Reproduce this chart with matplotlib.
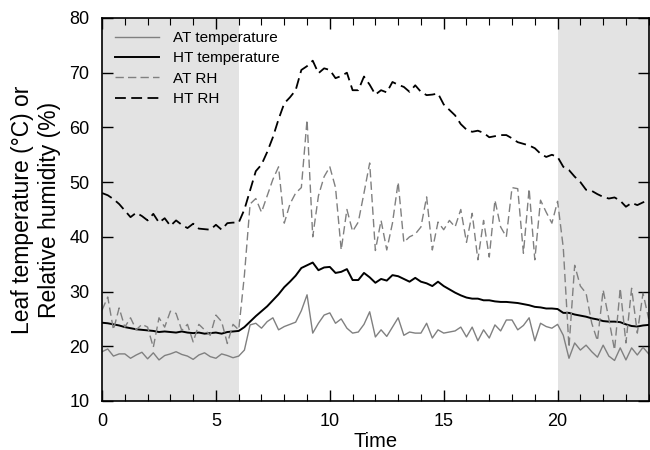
import numpy as np
import matplotlib
matplotlib.use("Agg")
import matplotlib.pyplot as plt
from matplotlib.ticker import MultipleLocator

plt.rcParams['font.family'] = ['Liberation Sans', 'DejaVu Sans']

# time in hours, 15-min readings
hours = np.arange(0, 24.01, 0.25)

at_temp = [19.0, 19.5, 18.2, 18.6, 18.6, 17.8, 18.4, 18.9, 17.7, 18.8,
           17.5, 18.3, 18.6, 19.0, 18.5, 18.2, 17.6, 18.4, 18.8, 18.1,
           17.8, 18.6, 18.3, 17.9, 18.2, 19.3, 23.9, 24.2, 23.3, 24.5,
           25.2, 23.0, 23.6, 24.0, 24.4, 26.5, 29.4, 22.4, 24.2, 25.7,
           26.1, 24.2, 25.0, 23.3, 22.4, 22.6, 24.0, 26.3, 21.7, 23.0,
           21.8, 23.5, 25.2, 22.0, 22.6, 22.4, 22.4, 24.2, 21.5, 23.0,
           22.4, 22.6, 22.8, 23.5, 21.7, 23.5, 21.0, 23.0, 21.5, 23.9,
           22.8, 24.8, 24.8, 23.0, 23.8, 25.2, 21.0, 24.2, 23.6, 23.3,
           24.0, 22.0, 17.8, 20.6, 19.3, 20.2, 19.0, 18.0, 20.2, 18.2,
           17.4, 19.7, 17.5, 19.7, 18.4, 19.8, 18.6]

ht_temp = [24.3, 24.2, 24.0, 23.8, 23.5, 23.3, 23.1, 23.0, 22.9, 22.8,
           22.6, 22.7, 22.6, 22.5, 22.7, 22.5, 22.4, 22.5, 22.3, 22.4,
           22.5, 22.3, 22.6, 22.7, 22.8, 23.5, 24.5, 25.5, 26.4, 27.3,
           28.4, 29.5, 30.8, 31.8, 32.9, 34.3, 34.8, 35.3, 33.9, 34.4,
           34.5, 33.4, 33.6, 34.1, 32.1, 32.1, 33.4, 32.6, 31.6, 32.3,
           32.0, 33.0, 32.8, 32.3, 31.8, 32.5, 31.8, 31.5, 31.0, 31.8,
           31.0, 30.4, 29.8, 29.3, 28.9, 28.7, 28.7, 28.4, 28.4, 28.2,
           28.1, 28.1, 28.0, 27.9, 27.7, 27.5, 27.2, 27.1, 26.9, 26.9,
           26.8, 26.1, 26.1, 25.8, 25.6, 25.4, 25.1, 24.9, 24.6, 24.5,
           24.5, 24.4, 24.0, 23.7, 23.6, 23.8, 23.9]

at_rh = [26.6, 29.0, 23.0, 27.0, 23.5, 25.2, 23.0, 24.0, 23.5, 19.8,
         25.2, 23.5, 26.4, 26.0, 22.9, 24.0, 20.8, 24.0, 23.0, 22.0,
         25.7, 24.5, 20.5, 24.0, 23.0, 33.0, 46.0, 47.0, 44.5, 47.5,
         50.5, 52.8, 42.5, 46.0, 48.0, 49.0, 61.4, 40.0, 47.5, 51.0,
         52.8, 49.0, 37.6, 45.0, 41.0, 42.7, 48.0, 53.5, 37.5, 43.0,
         37.6, 42.5, 50.0, 39.0, 40.0, 40.5, 41.8, 47.3, 37.6, 42.7,
         41.3, 43.0, 41.8, 45.0, 39.0, 44.3, 35.8, 43.0, 36.3, 46.7,
         41.8, 40.0, 49.0, 48.8, 37.0, 48.8, 35.8, 46.7, 44.5, 42.5,
         46.5, 38.0, 19.8, 34.8, 31.0, 29.7, 24.2, 21.0, 30.3, 25.0,
         19.3, 30.6, 20.6, 30.6, 22.4, 29.7, 25.0]

ht_rh = [48.0, 47.6, 46.9, 46.0, 44.8, 43.6, 44.4, 43.8, 43.0, 44.2,
         42.6, 43.4, 42.0, 43.0, 42.2, 41.6, 42.4, 41.5, 41.4, 41.3,
         42.2, 41.3, 42.5, 42.6, 42.6, 45.0, 48.5, 52.0, 53.2, 55.5,
         58.2, 61.5, 64.4, 65.5, 66.8, 70.5, 71.2, 72.2, 69.9, 70.8,
         70.5, 69.0, 69.4, 70.0, 66.8, 66.8, 69.3, 67.8, 66.0, 66.8,
         66.4, 68.3, 67.8, 67.4, 66.5, 67.7, 66.5, 65.9, 66.0, 66.2,
         64.2, 63.2, 62.2, 60.6, 59.6, 59.2, 59.4, 59.0, 58.2, 58.4,
         58.6, 58.6, 58.0, 57.3, 57.0, 56.7, 56.2, 55.2, 54.6, 55.0,
         54.6, 52.8, 52.2, 51.0, 50.0, 48.6, 48.4, 47.8, 47.3, 47.0,
         47.2, 46.6, 45.5, 46.2, 45.8, 46.3, 46.7]

dark_periods = [(0, 6), (20, 24)]

fig = plt.figure(figsize=(6.5, 4.5), dpi=100)
ax = fig.add_axes([0.157, 0.109, 0.841, 0.851])

for start, end in dark_periods:
    ax.axvspan(start, end, color='#e3e3e3', lw=0, zorder=0)

ax.plot(hours, at_temp, color='#808080', lw=1.0, label='AT temperature')
ax.plot(hours, ht_temp, color='black', lw=1.4, label='HT temperature')
ax.plot(hours, at_rh, color='#808080', lw=1.0, dashes=(6, 3), label='AT RH')
ax.plot(hours, ht_rh, color='black', lw=1.3, dashes=(6, 3), label='HT RH')

ax.set_xlim(0, 24)
ax.set_ylim(10, 80)
ax.xaxis.set_major_locator(MultipleLocator(5))
ax.xaxis.set_minor_locator(MultipleLocator(1))
ax.yaxis.set_major_locator(MultipleLocator(10))
ax.tick_params(which='both', direction='in', top=True, right=True, labelsize=13)
ax.tick_params(which='major', length=8, width=1)
ax.tick_params(which='minor', length=5, width=0.8)
ax.tick_params(axis='x', pad=9)
ax.tick_params(axis='y', pad=9)
for s in ax.spines.values():
    s.set_linewidth(1.2)

ax.set_xlabel('Time', fontsize=14.5, labelpad=1)
ax.set_ylabel('Leaf temperature (°C) or\nRelative humidity (%)', fontsize=16.5, labelpad=6)

ax.legend(loc='upper left', frameon=False, fontsize=11, handlelength=2.9,
          labelspacing=0.42, borderaxespad=0.45, handletextpad=0.9)

fig.savefig('out.png', dpi=100)
